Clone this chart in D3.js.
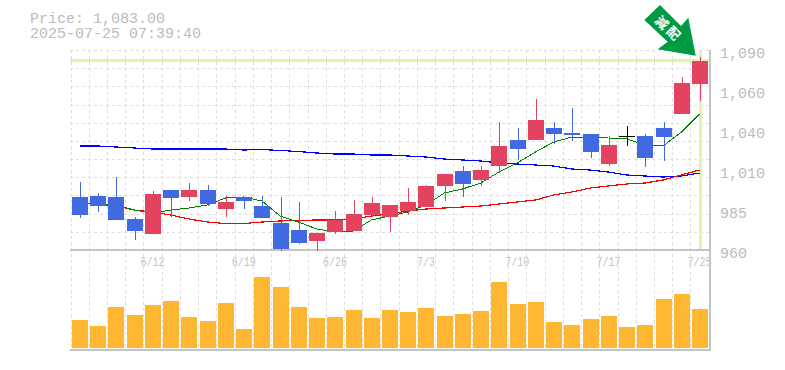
<!DOCTYPE html>
<html><head><meta charset="utf-8">
<script src="https://cdn.jsdelivr.net/npm/d3@7/dist/d3.min.js"></script>
<style>html,body{margin:0;padding:0;background:#fff;overflow:hidden}svg{display:block}</style>
</head><body><svg id="c" width="785" height="370"></svg>
<script>
const dates=["6/6","6/9","6/10","6/11","6/12","6/13","6/16","6/17","6/18","6/19","6/20","6/23","6/24","6/25","6/26","6/27","6/30","7/1","7/2","7/3","7/4","7/7","7/8","7/9","7/10","7/11","7/14","7/15","7/16","7/17","7/18","7/22","7/23","7/24","7/25"];
const xTickDates=["6/12","6/19","6/26","7/3","7/10","7/17","7/25"];
const priceTicks=[1090,1064,1038,1012,986,960];
const priceTickLabels=["1,090","1,060","1,040","1,010","985","960"];
const titleLines=["Price: 1,083.00","2025-07-25 07:39:40"];
const lastPrice=1083;
const opens=[994.45,995.1,994.45,980.15,970.4,999,994.45,999,986.65,994.45,988.6,977.55,973,965.85,971.7,972.35,982.75,981.45,985.35,987.95,1001.6,1011.35,1005.5,1014.6,1031.5,1031.5,1039.3,1036.05,1035.4,1015.9,1034.1,1034.1,1039.3,1048.4,1067.9];
const closes=[982.75,988.6,979.5,972.35,996.4,993.8,999,989.9,991.2,991.85,980.8,960.65,964.55,971.05,979.5,983.4,990.55,989.25,991.2,1001.6,1009.4,1002.9,1012,1027.6,1025.65,1044.5,1035.4,1034.75,1023.7,1028.25,1034.1,1019.8,1033.45,1068.55,1083];
const highs=[1004.2,997.05,1007.45,981.45,998.35,999,1003.55,1002.25,995.1,994.45,995.1,994.45,991.2,971.05,985.35,992.5,994.45,989.25,1000.3,1002.25,1009.4,1014.6,1014.6,1043.2,1039.3,1058.15,1043.2,1052.3,1035.4,1034.1,1040.6,1035.4,1043.2,1072.45,1085.45];
const lows=[980.8,984.7,979.5,966.5,970.4,981.45,991.85,988.6,981.45,986.65,980.8,959.35,963.9,959.35,970.4,972.35,981.45,971.7,982.75,987.95,991.85,994.45,1001.6,1010.05,1018.5,1031.5,1028.9,1030.85,1019.8,1014.6,1027.6,1013.95,1017.85,1048.4,1056.85];
const maShort=[990.55,989.9,989.25,986,984.05,986,987.3,989.25,993.8,994.45,991.85,982.1,978.2,973.65,971.7,972.35,979.5,982.1,984.7,989.25,997.05,999.65,1003.55,1010.7,1016.55,1023.7,1030.2,1033.45,1033.45,1032.8,1032.15,1028.25,1027.6,1036.7,1048.4];
const maMid=[990.55,989.9,988.6,986,984.7,982.75,980.15,978.2,977.2,977.2,978.2,978.85,979.2,979.5,979.5,980.15,982.1,983.4,985.35,986.65,987.3,987.95,988.6,989.9,991.2,992.5,995.75,997.7,1000.3,1001.6,1002.9,1003.55,1005.5,1008.75,1012];
const maLong=[1027.6,1027.6,1026.95,1026.3,1025.65,1025.65,1025.65,1025.65,1025.65,1025,1025.3,1024.7,1024,1023.05,1022.4,1022.4,1021.75,1021.75,1021.1,1020.45,1019.15,1018.5,1017.85,1016.55,1015.9,1015.25,1014.6,1012.65,1012,1010.7,1008.75,1008.1,1007.45,1008.1,1010.05];
const volumes=[28,22,41,33,43,47,31,27,45,19,71,61,41,30,31,38,30,38,36,40,32,34,37,66,44,46,26,23,29,32,21,23,49,54,39];
const badgeText=["減","配"];
const gridCount=11;

const svg=d3.select("#c");
const x=d3.scaleBand().domain(dates).range([70.5,708.7]);
const y=d3.scaleLinear().domain([960,1090]).range([250,50]);
const v=d3.scaleLinear().domain([0,98]).range([348,250]);
const cx=d=>x(d)+x.bandwidth()/2;
const bodyW=16;
const bodyX=d=>Math.round(cx(d)-bodyW/2+0.4);
const wickX=d=>bodyX(d)+bodyW/2+0.5;
const px=n=>Math.round(n)+0.5;
const TXT="#bbbbbb",GRID="#dddddd",AX="#c4c4c4",HL="#e0f4a4";
const UP="#e2435f",DOWN="#4169e1";

// grid
const grid=svg.append("g").attr("shape-rendering","crispEdges").attr("stroke",GRID).attr("stroke-dasharray","3,3");
grid.selectAll("line.h").data(d3.range(gridCount+1)).join("line").attr("class","h")
  .attr("x1",70).attr("x2",710).attr("y1",k=>px(y(960+130*k/gridCount))).attr("y2",k=>px(y(960+130*k/gridCount)));
grid.selectAll("line.v").data(dates).join("line").attr("class","v")
  .attr("x1",d=>px(x(d))).attr("x2",d=>px(x(d))).attr("y1",50).attr("y2",350);

// highlight of last price / last day
const hl=svg.append("g").attr("shape-rendering","crispEdges").attr("stroke",HL).attr("stroke-width",3);
hl.append("line").attr("x1",70).attr("x2",710).attr("y1",y(lastPrice)-0.3).attr("y2",y(lastPrice)-0.3);
hl.append("line").attr("x1",wickX("7/25")).attr("x2",wickX("7/25")).attr("y1",51).attr("y2",250);

// frame
const fr=svg.append("g").attr("shape-rendering","crispEdges").attr("stroke",AX).attr("stroke-width",2);
fr.append("line").attr("x1",70).attr("x2",711).attr("y1",y(960)).attr("y2",y(960));
fr.append("line").attr("x1",70).attr("x2",711).attr("y1",350).attr("y2",350);
fr.append("line").attr("x1",710).attr("x2",710).attr("y1",50).attr("y2",351);

// moving averages
const lineOf=a=>d3.line().x((_,i)=>cx(dates[i])).y(p=>y(p))(a);
[[maLong,"#0000ff",1.2],[maMid,"#ff0000",1.2],[maShort,"#008000",1]].forEach(([a,c,w])=>{
  svg.append("path").attr("d",lineOf(a)).attr("fill","none").attr("stroke",c).attr("stroke-width",w).attr("shape-rendering","crispEdges");
});

// candles
const col=i=>closes[i]>opens[i]?UP:(closes[i]<opens[i]?DOWN:"#000");
const g=svg.append("g").attr("shape-rendering","crispEdges");
const idx=d3.range(dates.length);
g.selectAll("line.w").data(idx).join("line").attr("class","w")
  .attr("x1",i=>wickX(dates[i])).attr("x2",i=>wickX(dates[i])).attr("y1",i=>y(highs[i])).attr("y2",i=>y(lows[i]))
  .attr("stroke",col).attr("stroke-width",1);
g.selectAll("rect.b").data(idx).join("rect").attr("class","b")
  .attr("x",i=>bodyX(dates[i])).attr("width",bodyW)
  .attr("y",i=>y(Math.max(opens[i],closes[i])))
  .attr("height",i=>Math.max(y(Math.min(opens[i],closes[i]))-y(Math.max(opens[i],closes[i])),opens[i]===closes[i]?1:0))
  .attr("fill",col);

// volume
svg.append("g").attr("shape-rendering","crispEdges").selectAll("rect").data(idx).join("rect")
  .attr("x",i=>bodyX(dates[i])).attr("width",bodyW)
  .attr("y",i=>v(volumes[i])).attr("height",i=>v(0)-v(volumes[i])).attr("fill","#ffb733");

// axes
const yAxis=d3.axisRight(y).tickValues(priceTicks).tickSize(0).tickPadding(0)
  .tickFormat((d,i)=>priceTickLabels[i]);
const ya=svg.append("g").attr("transform","translate(720,3)").call(yAxis);
ya.select(".domain").remove();
ya.selectAll("text").attr("font-family","'Liberation Mono',monospace").attr("font-size",15).attr("fill",TXT).attr("dy","0.32em");
const xAxis=d3.axisBottom(x).tickValues(xTickDates).tickSize(0).tickPadding(0);
const xa=svg.append("g").attr("transform","translate(0,257)").call(xAxis);
xa.select(".domain").remove();
xa.selectAll("text").attr("font-family","'Liberation Mono',monospace").attr("font-size",12.5).attr("fill","#c4c4c4").attr("dy","0.71em")
  .attr("textLength",d=>d.length*6).attr("lengthAdjust","spacingAndGlyphs");

// title
svg.selectAll("text.t").data(titleLines).join("text").attr("class","t")
  .attr("x",30).attr("y",(_,i)=>23+15*i).attr("font-family","'Liberation Mono',monospace").attr("font-size",15).attr("fill",TXT).text(d=>d);

// badge arrow
svg.append("polygon").attr("points","660,5 681,26 688.3,17.7 695.7,55.7 657.7,49.3 667.7,41.7 644.3,20").attr("fill","#009944");
svg.selectAll("text.b").data(badgeText).join("text").attr("class","b")
  .attr("transform",(_,i)=>`translate(${661.7+11.6*i},${22.7+10.6*i}) rotate(45)`)
  .attr("text-anchor","middle").attr("dy","0.36em").attr("font-family","'Noto Sans CJK JP'").attr("font-weight","700").attr("font-size",13).attr("fill","#fff").text(d=>d);
</script></body></html>
